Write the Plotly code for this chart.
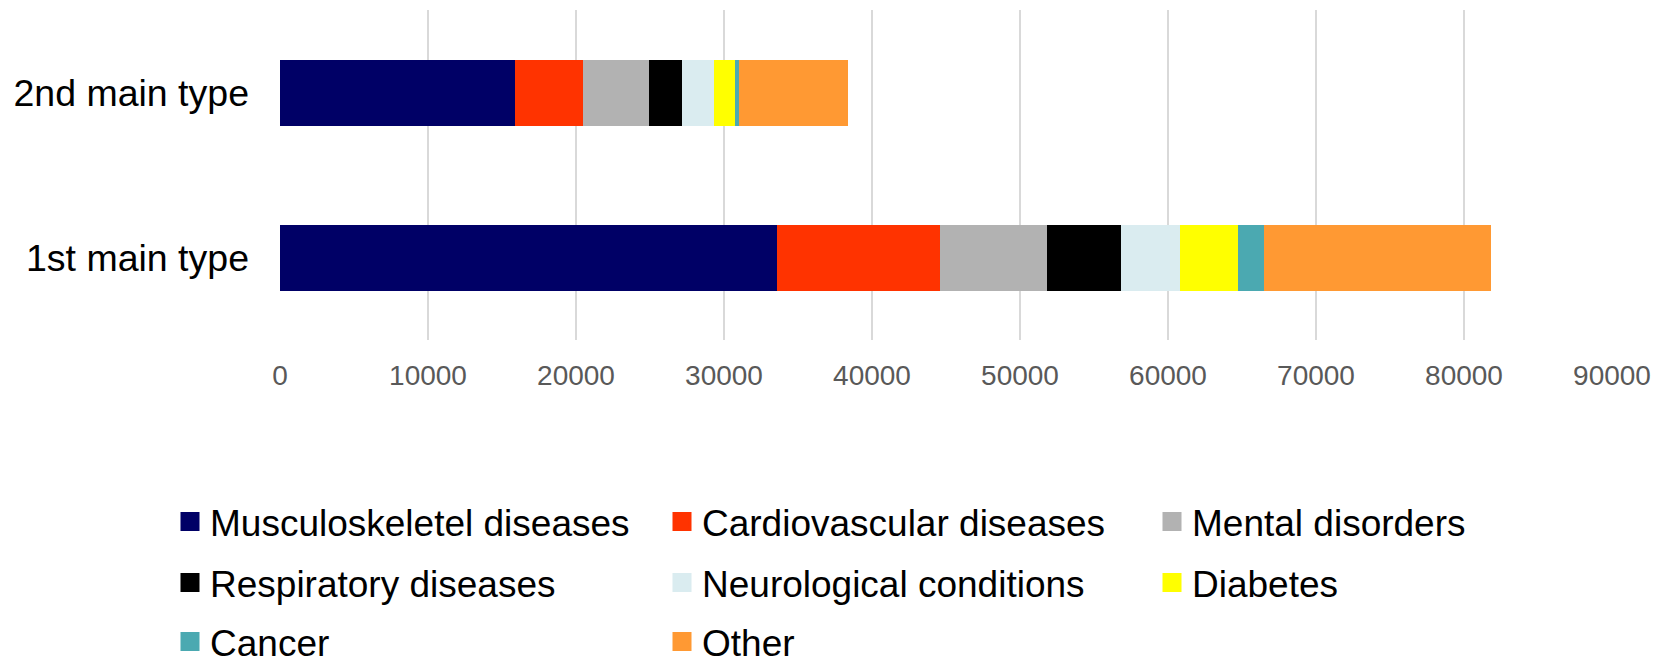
import plotly.graph_objects as go

categories = ["1st main type", "2nd main type"]
series_names = ["Musculoskeletel diseases", "Cardiovascular diseases", "Mental disorders",
                "Respiratory diseases", "Neurological conditions", "Diabetes", "Cancer", "Other"]
musculoskeletal = [33600, 15850]
cardiovascular = [11000, 4600]
mental = [7250, 4500]
respiratory = [5000, 2200]
neurological = [3950, 2200]
diabetes = [3950, 1400]
cancer = [1750, 250]
other = [15300, 7350]
series_values = [musculoskeletal, cardiovascular, mental, respiratory,
                 neurological, diabetes, cancer, other]
colors = ["#000066", "#FF3300", "#B2B2B2", "#000000", "#DAECF0", "#FFFF00", "#4BA9B1", "#FF9933"]
x_ticks = list(range(0, 90001, 10000))

FONT = "Liberation Sans, Arial, sans-serif"
# page body has an 8px margin; figure offset accordingly (extra height keeps the
# bottom legend row from being clipped)
W, H = 1665, 672

fig = go.Figure()
for name, vals, col in zip(series_names, series_values, colors):
    fig.add_trace(go.Bar(y=categories, x=vals, name=name, orientation="h",
                         marker=dict(color=col, line=dict(width=0)),
                         width=0.4, showlegend=False))

# legend layout: 3 columns, 3 rows (pixel positions inside the figure)
col_x = [162, 654, 1144]
row_y = [514, 575, 634]
legend_layouts = {}
for i, (name, col) in enumerate(zip(series_names, colors)):
    lg = "legend" if i == 0 else f"legend{i + 1}"
    fig.add_trace(go.Scatter(x=[None], y=[None], mode="markers", name=name,
                             marker=dict(symbol="square", size=16, color=col,
                                         line=dict(width=3, color=col)),
                             legend=lg, showlegend=True))
    r, c = divmod(i, 3)
    legend_layouts[lg] = dict(orientation="v", xref="container", yref="container",
                              x=col_x[c] / W, y=1 - row_y[r] / H,
                              xanchor="left", yanchor="middle",
                              font=dict(family=FONT, size=37, color="#000000"),
                              bgcolor="rgba(0,0,0,0)", borderwidth=0)

fig.update_layout(
    width=W, height=H,
    margin=dict(l=272, r=61, t=2, b=H - 332, autoexpand=False),
    barmode="stack",
    plot_bgcolor="white", paper_bgcolor="white",
    font=dict(family=FONT),
    xaxis=dict(range=[0, 90000], tickvals=x_ticks, ticktext=[str(v) for v in x_ticks],
               showgrid=True, gridcolor="#D9D9D9", gridwidth=1.5,
               zeroline=False, showline=False,
               tickfont=dict(family=FONT, size=28, color="#595959"),
               ticklabelstandoff=16),
    yaxis=dict(categoryorder="array", categoryarray=categories,
               range=[-0.5, 1.5], showgrid=False, zeroline=False, showline=False,
               tickfont=dict(family=FONT, size=37.5, color="#000000"),
               ticklabelstandoff=30),
    **legend_layouts,
)

fig.write_html("out.html")
